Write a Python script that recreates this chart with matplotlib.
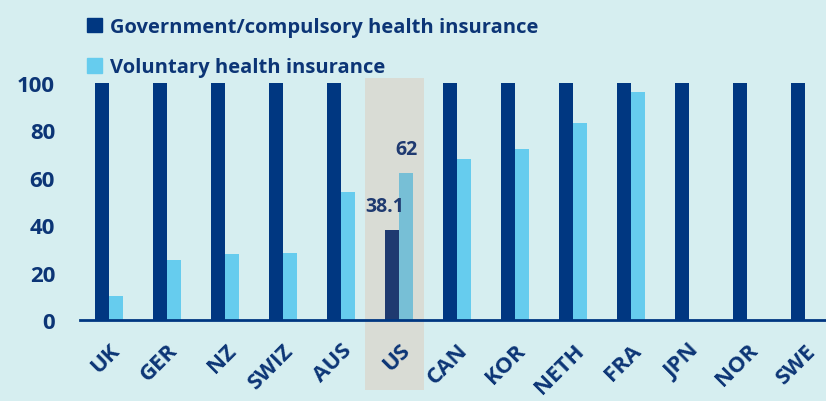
import matplotlib.pyplot as plt
import numpy as np
from matplotlib.patches import Rectangle

countries = ['UK', 'GER', 'NZ', 'SWIZ', 'AUS', 'US', 'CAN', 'KOR', 'NETH', 'FRA', 'JPN', 'NOR', 'SWE']
government = [100, 100, 100, 100, 100, 38.1, 100, 100, 100, 100, 100, 100, 100]
voluntary = [10, 25.5, 27.8, 28.2, 54.1, 62, 68, 72.2, 83.2, 96, 0, 0, 0]
highlight = 'US'

bg = '#d6eef0'
navy = '#003781'
light = '#66ccee'
text_col = '#0c3576'
weight = 'bold'

plt.rcParams['font.family'] = ['Open Sans', 'DejaVu Sans']

fig = plt.figure(figsize=(8.26, 4.02), dpi=100, facecolor=bg)
ax = fig.add_axes([0.097, 0.2015, 0.903, 0.59])
ax.set_facecolor(bg)

x = np.arange(len(countries))
w = 0.24
hi = countries.index(highlight)

dark_cols = [navy] * len(countries)
light_cols = [light] * len(countries)
dark_cols[hi] = '#1f3a70'
light_cols[hi] = '#77bfd6'

# shaded band behind the highlighted country
ax.add_patch(Rectangle((hi - 0.59, -29.4), 1.02, 131.6, facecolor='#d9dcd5',
                       edgecolor='none', zorder=0, clip_on=False))

ax.bar(x - w / 2, government, w, color=dark_cols, zorder=2)
ax.bar(x + w / 2, voluntary, w, color=light_cols, zorder=2)

ax.annotate(f'{government[hi]:g}', (x[hi] - w / 2, government[hi]), xytext=(-5, 13.5),
            textcoords='offset points', ha='center', va='baseline',
            fontsize=14, fontweight=weight, color='#1f3a70')
ax.annotate(f'{voluntary[hi]:g}', (x[hi] + w / 2, voluntary[hi]), xytext=(0, 13.5),
            textcoords='offset points', ha='center', va='baseline',
            fontsize=14, fontweight=weight, color='#1f3a70')

ax.set_xlim(-0.5, 12.36)
ax.set_ylim(0, 100)
ax.set_yticks([0, 20, 40, 60, 80, 100])
ax.set_xticks(x)
ax.set_xticklabels(countries, rotation=45, ha='right', rotation_mode='anchor')
ax.tick_params(axis='both', length=0, labelcolor=text_col)
ax.tick_params(axis='y', pad=18, labelsize=16)
ax.tick_params(axis='x', pad=14, labelsize=16)
for lab in ax.get_xticklabels() + ax.get_yticklabels():
    lab.set_fontweight(weight)

for s in ['top', 'right', 'left']:
    ax.spines[s].set_visible(False)
ax.spines['bottom'].set_color(navy)
ax.spines['bottom'].set_linewidth(2)
ax.spines['bottom'].set_zorder(3)

handles = [Rectangle((0, 0), 1, 1, color=navy), Rectangle((0, 0), 1, 1, color=light)]
leg = fig.legend(handles, ['Government/compulsory health insurance', 'Voluntary health insurance'],
                 loc='upper left', bbox_to_anchor=(0.096, 0.975), frameon=False,
                 handlelength=0.75, handleheight=0.75, handletextpad=0.35,
                 labelspacing=1.0, fontsize=14.5, borderaxespad=0)
for t in leg.get_texts():
    t.set_color(text_col)
    t.set_fontweight(weight)

fig.savefig('out.png', dpi=100, facecolor=bg)
